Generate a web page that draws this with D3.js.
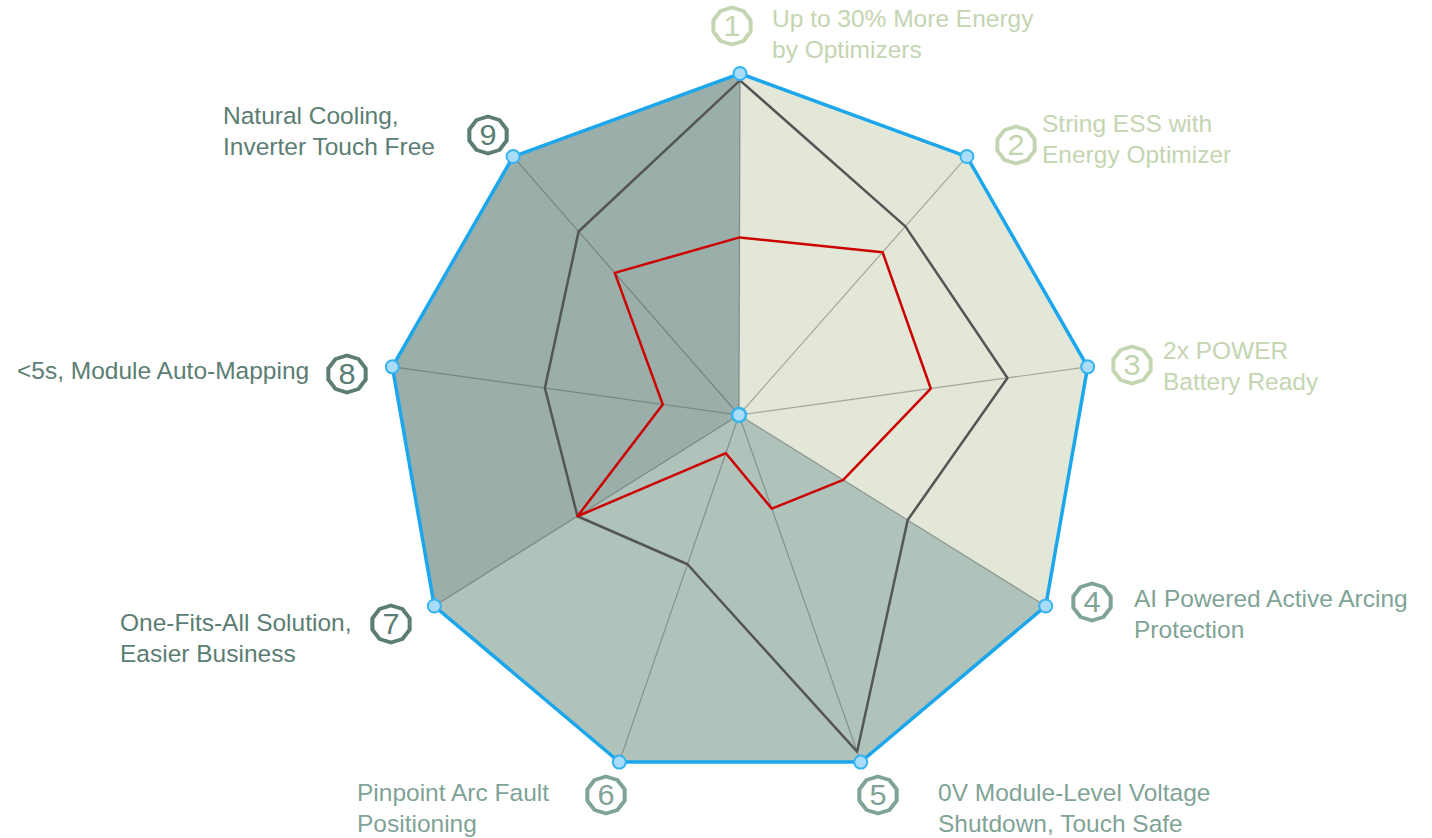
<!DOCTYPE html>
<html>
<head>
<meta charset="utf-8">
<script src="https://d3js.org/d3.v7.min.js"></script>
<style>
  body { margin: 0; background: #fff; }
  svg text { font-family: "Liberation Sans", Arial, Helvetica, sans-serif; }
</style>
</head>
<body>
<div id="radar"></div>
<script>
// radar categories (clockwise from top)
var badges = ["1", "2", "3", "4", "5", "6", "7", "8", "9"];
var labels = [
  ["Up to 30% More Energy", "by Optimizers"],
  ["String ESS with", "Energy Optimizer"],
  ["2x POWER", "Battery Ready"],
  ["AI Powered Active Arcing", "Protection"],
  ["0V Module-Level Voltage", "Shutdown, Touch Safe"],
  ["Pinpoint Arc Fault", "Positioning"],
  ["One-Fits-All Solution,", "Easier Business"],
  ["<5s, Module Auto-Mapping"],
  ["Natural Cooling,", "Inverter Touch Free"]
];

// series values, 0 - 100
var outerValues = [100, 100, 100, 100, 100, 100, 100, 100, 100];
var darkValues = [98, 73, 77, 55, 97, 43, 53, 56, 71];
var redValues = [52, 63, 55, 34, 27, 11, 53, 22, 55];

var svgWidth = 1432;
var svgHeight = 838;

// the rim is centred a bit lower than the hub where spokes meet
var rim = { cx: 740, cy: 428.5, rx: 353, ry: 355 };
var hub = { x: 739, y: 415 };

// badge centre and text start for each label
var labelLayout = [
  { bx: 732, by: 26, tx: 772, ty: 27 },
  { bx: 1016, by: 145, tx: 1042, ty: 132 },
  { bx: 1132, by: 365, tx: 1163, ty: 359 },
  { bx: 1092, by: 602, tx: 1134, ty: 607 },
  { bx: 878, by: 795, tx: 938, ty: 801 },
  { bx: 606, by: 795, tx: 357, ty: 801 },
  { bx: 391, by: 624, tx: 120, ty: 631 },
  { bx: 347, by: 374, tx: 17, ty: 379 },
  { bx: 488, by: 135, tx: 223, ty: 124 }
];

var groupColors = ["#c4d5b1", "#7fa396", "#5b7d73"];
var wedgeColors = ["#e2e7d8", "#b0c3bb", "#9aaeaa"];

var svg = d3.select("#radar")
  .append("svg")
  .attr("width", svgWidth)
  .attr("height", svgHeight);

var angle = d3.scaleLinear()
  .domain([0, badges.length])
  .range([0, 2 * Math.PI]);

var radius = d3.scaleLinear()
  .domain([0, 100])
  .range([0, 1]);

// outer rim point for axis i
function rimPoint(i) {
  var a = angle(i);
  return [rim.cx + rim.rx * Math.sin(a), rim.cy - rim.ry * Math.cos(a)];
}

// point along the spoke from the hub to the rim
function valuePoint(i, v) {
  var p = rimPoint(i);
  var t = radius(v);
  return [hub.x + t * (p[0] - hub.x), hub.y + t * (p[1] - hub.y)];
}

var line = d3.line().curve(d3.curveLinearClosed);

// three coloured wedges, three axes each
var wedges = [[0, 1, 2, 3], [3, 4, 5, 6], [6, 7, 8, 9]];
svg.append("g")
  .selectAll("path")
  .data(wedges)
  .enter()
  .append("path")
  .attr("d", d => line([[hub.x, hub.y]].concat(d.map(i => valuePoint(i % 9, outerValues[i % 9])))))
  .attr("fill", (d, i) => wedgeColors[i])
  .attr("stroke", (d, i) => wedgeColors[i])
  .attr("stroke-width", 0.5);

// spokes
svg.append("g")
  .selectAll("line")
  .data(badges)
  .enter()
  .append("line")
  .attr("x1", hub.x)
  .attr("y1", hub.y)
  .attr("x2", (d, i) => valuePoint(i, outerValues[i])[0])
  .attr("y2", (d, i) => valuePoint(i, outerValues[i])[1])
  .attr("stroke", "rgba(70,70,70,0.4)")
  .attr("stroke-width", 1.2);

// outer blue rim
svg.append("path")
  .attr("d", line(outerValues.map((v, i) => valuePoint(i, v))))
  .attr("fill", "none")
  .attr("stroke", "#1ca6ec")
  .attr("stroke-width", 3.5);

// dark series
svg.append("path")
  .attr("d", line(darkValues.map((v, i) => valuePoint(i, v))))
  .attr("fill", "none")
  .attr("stroke", "#555555")
  .attr("stroke-width", 2.5)
  .attr("stroke-linejoin", "round");

// red series
svg.append("path")
  .attr("d", line(redValues.map((v, i) => valuePoint(i, v))))
  .attr("fill", "none")
  .attr("stroke", "#cc0000")
  .attr("stroke-width", 2.5)
  .attr("stroke-linejoin", "round");

// markers on the rim and at the hub
svg.append("g")
  .selectAll("circle")
  .data(outerValues)
  .enter()
  .append("circle")
  .attr("cx", (d, i) => valuePoint(i, d)[0])
  .attr("cy", (d, i) => valuePoint(i, d)[1])
  .attr("r", 6.5)
  .attr("fill", "#a8dcf8")
  .attr("stroke", "#34b3ef")
  .attr("stroke-width", 2);

svg.append("circle")
  .attr("cx", hub.x)
  .attr("cy", hub.y)
  .attr("r", 7)
  .attr("fill", "#a8dcf8")
  .attr("stroke", "#34b3ef")
  .attr("stroke-width", 2.5);

// numbered badges
var badgeShape = d3.lineRadial()
  .angle((d, i) => i * 2 * Math.PI / 10)
  .radius(18.5)
  .curve(d3.curveLinearClosed);

var badgeGroup = svg.append("g")
  .selectAll("g")
  .data(badges)
  .enter()
  .append("g")
  .attr("transform", (d, i) => `translate(${labelLayout[i].bx}, ${labelLayout[i].by}) scale(1.06, 1)`);

badgeGroup.append("path")
  .attr("d", badgeShape(d3.range(10)))
  .attr("fill", "#fff")
  .attr("stroke", (d, i) => groupColors[Math.floor(i / 3)])
  .attr("stroke-width", 3.8);

badgeGroup.append("text")
  .attr("text-anchor", "middle")
  .attr("dy", "0.36em")
  .attr("font-size", 29)
  .attr("fill", (d, i) => groupColors[Math.floor(i / 3)])
  .text(d => d);

// label text
var labelGroup = svg.append("g")
  .selectAll("text")
  .data(labels)
  .enter()
  .append("text")
  .attr("x", (d, i) => labelLayout[i].tx)
  .attr("y", (d, i) => labelLayout[i].ty)
  .attr("font-size", 24.5)
  .attr("fill", (d, i) => groupColors[Math.floor(i / 3)]);

labelGroup.selectAll("tspan")
  .data(d => d)
  .enter()
  .append("tspan")
  .attr("x", function() { return d3.select(this.parentNode).attr("x"); })
  .attr("dy", (d, j) => j === 0 ? 0 : 31)
  .text(d => d);
</script>
</body>
</html>
